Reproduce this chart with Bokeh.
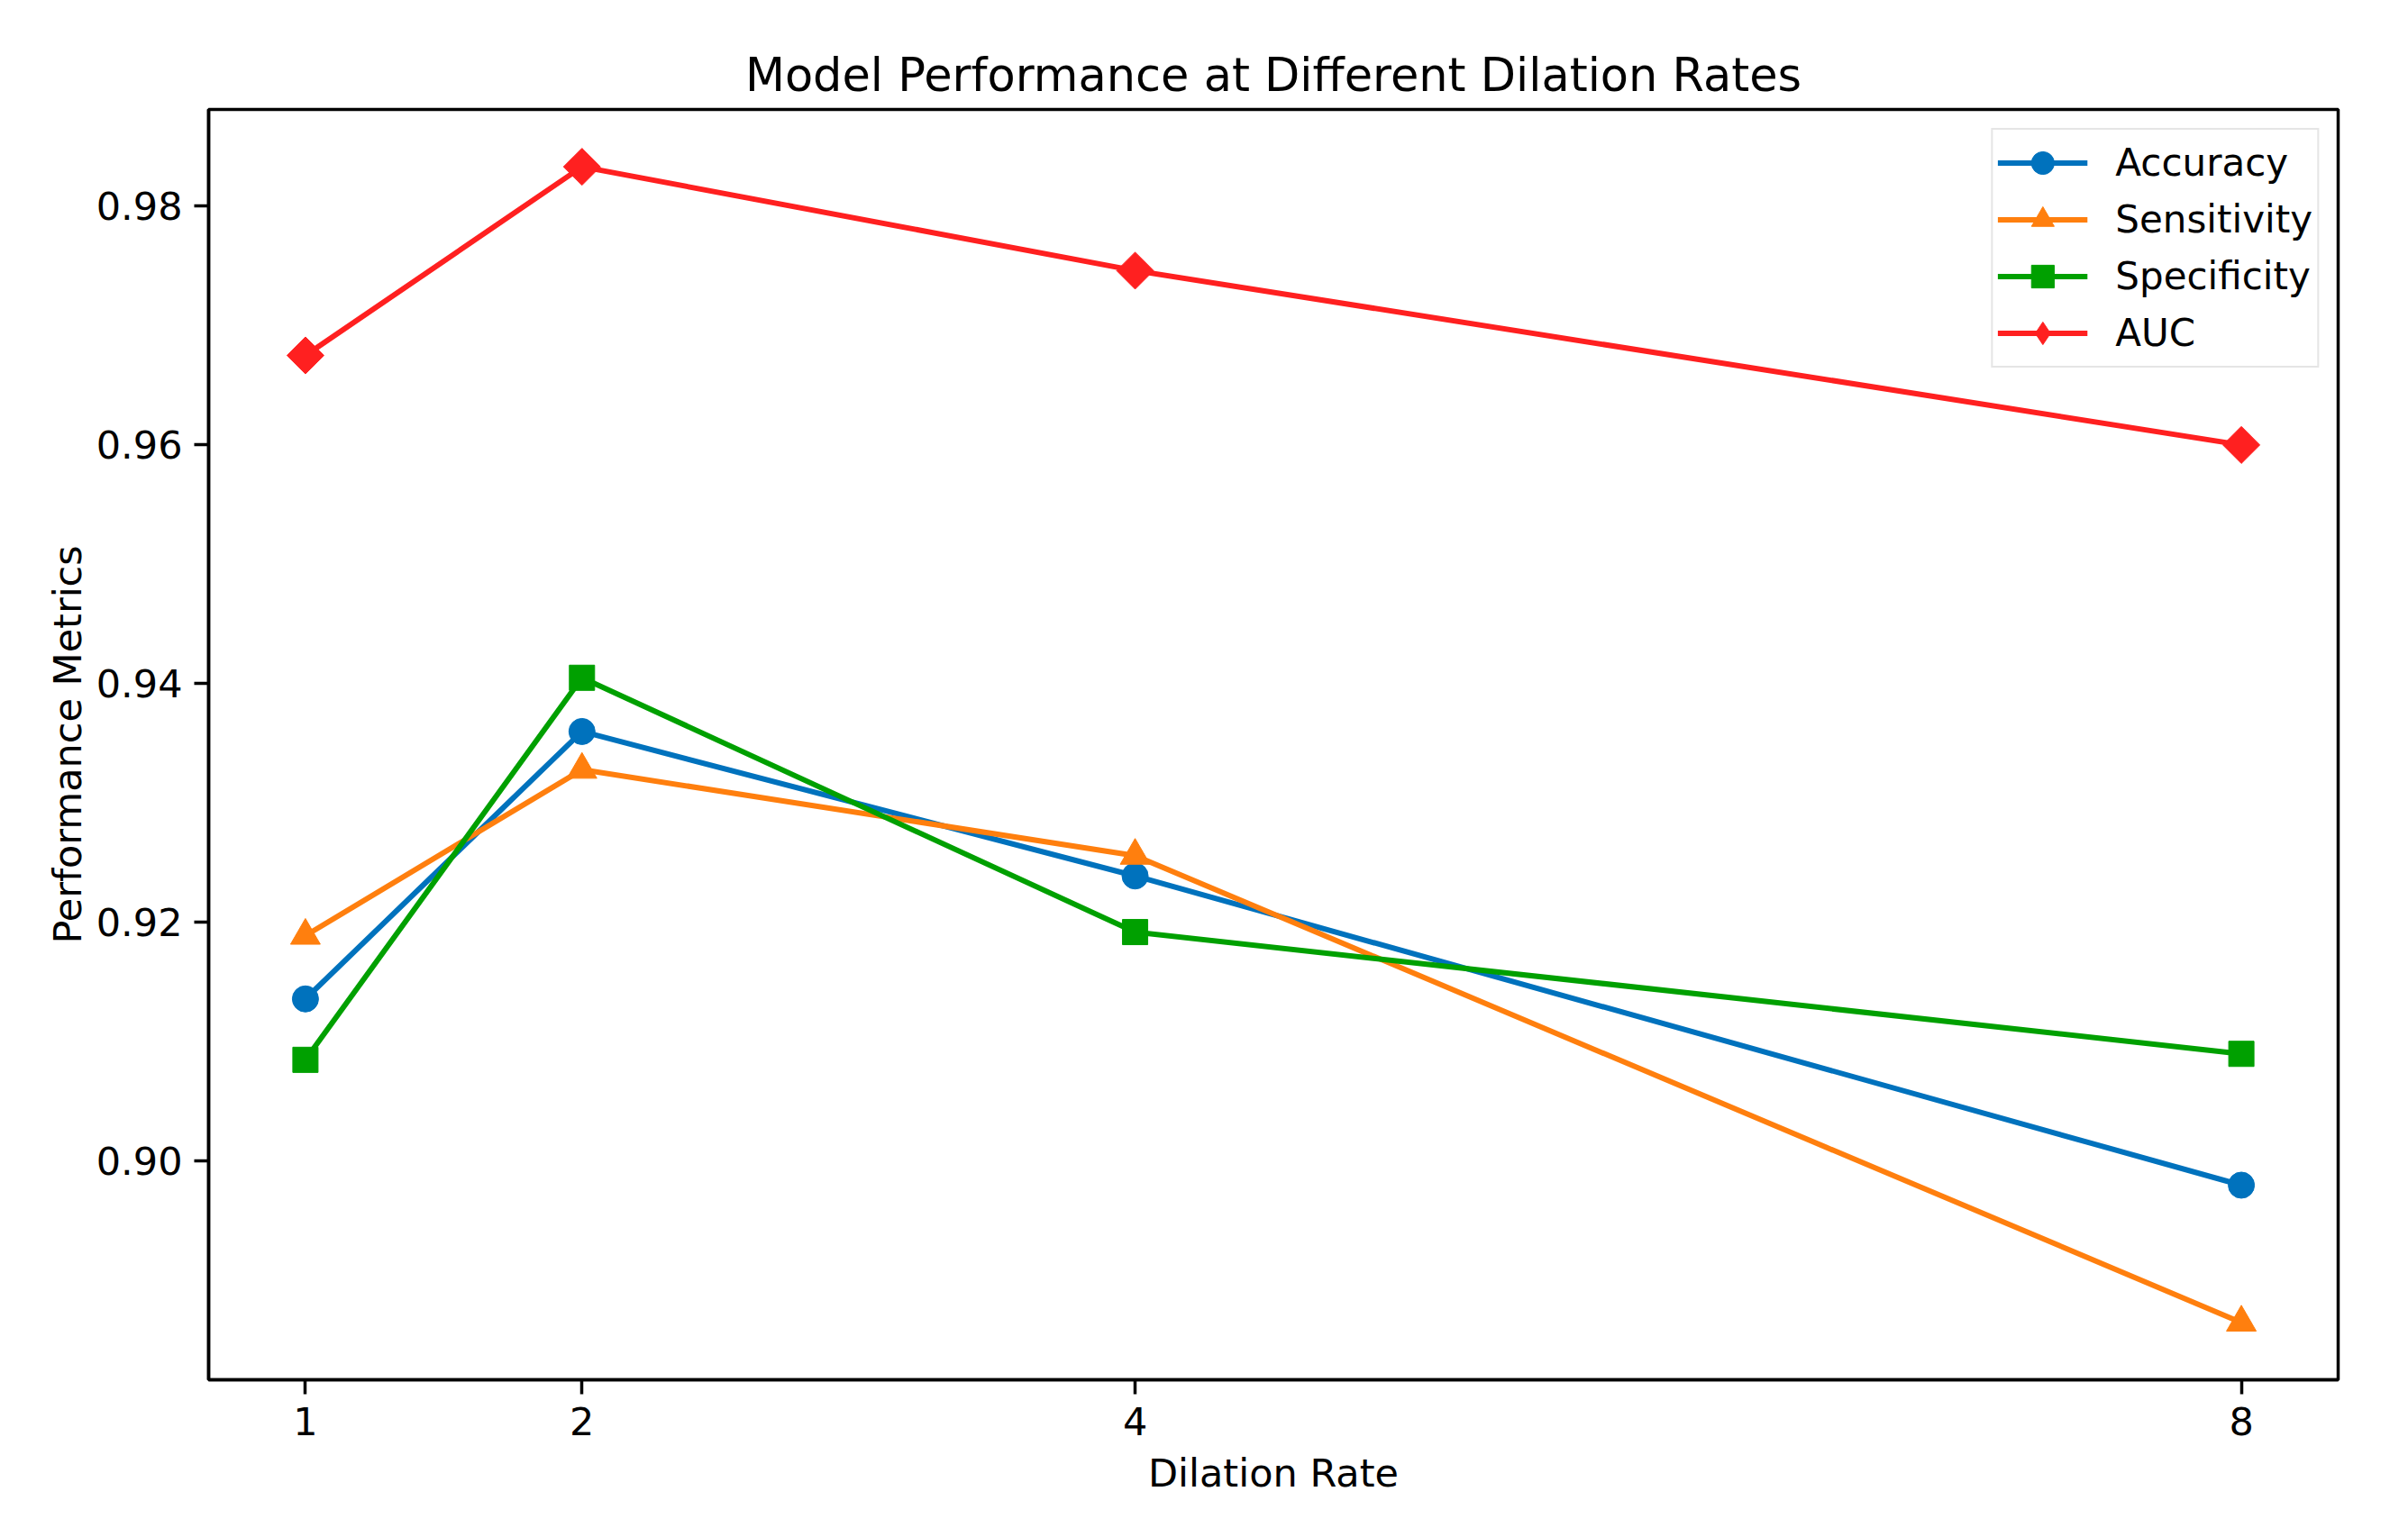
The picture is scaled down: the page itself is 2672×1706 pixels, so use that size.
import numpy as np
from bokeh.plotting import figure
from bokeh.models import FixedTicker, PrintfTickFormatter, Range1d, LegendItem, Legend
from bokeh.embed import file_html
from bokeh.resources import INLINE

# ---- data ----
dilation_rates = [1, 2, 4, 8]
accuracy = [0.9136, 0.9360, 0.9239, 0.8980]
sensitivity = [0.9189, 0.9328, 0.9256, 0.8865]
specificity = [0.9085, 0.9405, 0.9192, 0.9090]
auc = [0.9675, 0.9833, 0.9746, 0.9600]
y_ticks = [0.90, 0.92, 0.94, 0.96, 0.98]

series_names = ["Accuracy", "Sensitivity", "Specificity", "AUC"]
series_values = [accuracy, sensitivity, specificity, auc]
series_colors = ["#0072BD", "#FF7F0E", "#00A000", "#FF2020"]
series_markers = ["circle", "triangle", "square", "square"]
legend_markers = ["circle", "triangle", "square", "diamond"]
series_sizes = [29, 33, 28, 29]
series_angles = [0, 0, 0, np.pi / 4]

FONT = "DejaVu Sans"

p = figure(
    width=2656, height=1690,
    output_backend="svg", toolbar_location=None,
    x_range=Range1d(0.65, 8.35), y_range=Range1d(0.8817, 0.9881),
    min_border_left=231, min_border_right=62,
    min_border_top=121, min_border_bottom=159,
    title="Model Performance at Different Dilation Rates",
)
p.background_fill_color = "white"
p.border_fill_color = "white"
p.grid.visible = False
p.outline_line_color = "black"
p.outline_line_width = 3.5

p.title.text_font = FONT
p.title.text_font_size = "51px"
p.title.text_font_style = "normal"
p.title.align = "center"
p.title.text_color = "black"
p.title.standoff = 18

for ax in (p.xaxis[0], p.yaxis[0]):
    ax.axis_line_width = 3.5
    ax.axis_line_color = "black"
    ax.major_tick_line_width = 3.5
    ax.major_tick_line_color = "black"
    ax.major_tick_out = 16
    ax.major_tick_in = 0
    ax.minor_tick_line_color = None
    ax.major_label_text_font = FONT
    ax.major_label_text_font_size = "43px"
    ax.major_label_text_color = "black"
    ax.axis_label_text_font = FONT
    ax.axis_label_text_font_size = "43px"
    ax.axis_label_text_font_style = "normal"
    ax.axis_label_text_color = "black"

p.xaxis.ticker = FixedTicker(ticks=dilation_rates)
p.xaxis.axis_label = "Dilation Rate"
p.xaxis.major_label_standoff = 14
p.xaxis.axis_label_standoff = 14

p.yaxis.ticker = FixedTicker(ticks=y_ticks)
p.yaxis.formatter = PrintfTickFormatter(format="%.2f")
p.yaxis.axis_label = "Performance Metrics"
p.yaxis.major_label_standoff = 13
p.yaxis.axis_label_standoff = 4

items = []
for name, vals, col, mk, lmk, sz, ang in zip(series_names, series_values, series_colors,
                                              series_markers, legend_markers,
                                              series_sizes, series_angles):
    r_line = p.line(dilation_rates, vals, line_color=col, line_width=6)
    r_pts = p.scatter(dilation_rates, vals, marker=mk, size=sz, angle=ang,
                      fill_color=col, line_color=col)
    if lmk == mk and ang == 0:
        items.append(LegendItem(label=name, renderers=[r_line, r_pts]))
    else:
        # legend swatch only (NaN position: nothing drawn inside the plot)
        r_leg = p.scatter(x=[np.nan], y=[np.nan], marker=lmk,
                          fill_color=col, line_color=col)
        items.append(LegendItem(label=name, renderers=[r_line, r_leg]))

lg = Legend(items=items, location="top_right")
p.add_layout(lg)
lg.margin = 21
lg.padding = 5
lg.spacing = 0
lg.glyph_width = 100
lg.glyph_height = 63
lg.label_height = 63
lg.label_standoff = 31
lg.label_text_font = FONT
lg.label_text_font_size = "42px"
lg.label_text_color = "black"
lg.border_line_color = "#cccccc"
lg.border_line_width = 2
lg.background_fill_alpha = 0.8

open("out.html", "w").write(file_html(p, INLINE))
